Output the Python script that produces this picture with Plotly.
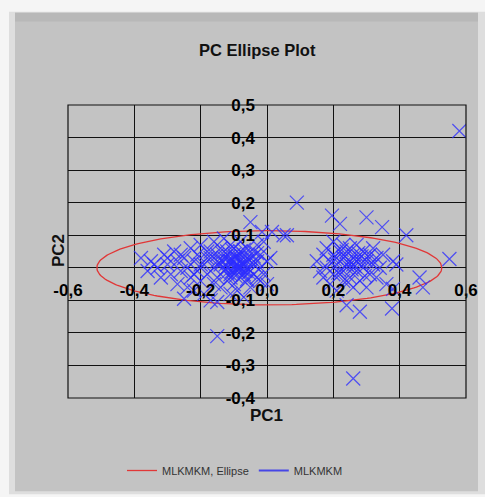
import numpy as np
import plotly.graph_objects as go

# PCA scores for the MLKMKM samples
pc1_scores = [
    -0.38, -0.36, -0.35, -0.33, -0.32, -0.31, -0.30, -0.29, -0.28, -0.27,
    -0.27, -0.26, -0.25, -0.25, -0.24, -0.24, -0.23, -0.23, -0.22, -0.22,
    -0.21, -0.21, -0.20, -0.20, -0.19, -0.19, -0.18, -0.18, -0.17, -0.17,
    -0.16, -0.16, -0.16, -0.15, -0.15, -0.15, -0.14, -0.14, -0.14, -0.13,
    -0.13, -0.13, -0.12, -0.12, -0.12, -0.11, -0.11, -0.11, -0.11, -0.10,
    -0.10, -0.10, -0.10, -0.09, -0.09, -0.09, -0.09, -0.08, -0.08, -0.08,
    -0.08, -0.07, -0.07, -0.07, -0.07, -0.06, -0.06, -0.06, -0.06, -0.05,
    -0.05, -0.05, -0.05, -0.04, -0.04, -0.04, -0.03, -0.03, -0.03, -0.02,
    -0.02, -0.015, -0.01, -0.01, 0.00, 0.00, 0.015, 0.01, 0.05, 0.06,
    -0.125, -0.115, -0.105, -0.095, -0.085, -0.075, -0.065, -0.135, -0.09, -0.07,
    -0.145, -0.125, -0.105, -0.085, -0.065, -0.055, -0.045, -0.115, -0.095, -0.075,
    -0.135, -0.105, -0.085, -0.06, -0.04, -0.11, -0.08, -0.10, -0.07, -0.12,
    -0.34, -0.30, -0.26, -0.22, -0.20, -0.18, -0.17, -0.15, -0.03, -0.02,
    0.15, 0.16, 0.17, 0.17, 0.18, 0.18, 0.19, 0.19, 0.196, 0.20,
    0.20, 0.20, 0.21, 0.21, 0.22, 0.22, 0.22, 0.23, 0.23, 0.23,
    0.24, 0.24, 0.24, 0.25, 0.25, 0.25, 0.26, 0.26, 0.26, 0.27,
    0.27, 0.28, 0.28, 0.28, 0.29, 0.29, 0.30, 0.30, 0.30, 0.31,
    0.31, 0.32, 0.32, 0.33, 0.33, 0.34, 0.347, 0.35, 0.36, 0.38,
    0.38, 0.377, 0.39, 0.42, 0.46, 0.47, 0.55, 0.58, 0.09, 0.26,
    -0.15, 0.21, 0.24, 0.27, 0.22,
    0.205, 0.215, 0.235, 0.245, 0.255, 0.265, 0.275, 0.285, 0.295, 0.305,
    0.225, 0.245, 0.265, 0.285, 0.315,
]
pc2_scores = [
    0.03, -0.01, 0.02, 0.00, -0.03, 0.04, 0.01, -0.02, 0.05, -0.05,
    0.02, -0.01, -0.095, 0.03, 0.00, -0.06, 0.06, -0.03, 0.02, -0.07,
    0.04, -0.01, 0.07, -0.04, 0.01, -0.08, 0.05, -0.02, -0.10, 0.03,
    0.08, -0.05, 0.00, -0.105, 0.04, -0.03, 0.06, 0.01, -0.06, 0.09,
    -0.01, 0.03, 0.05, -0.04, 0.00, 0.07, 0.02, -0.02, -0.08, 0.04,
    0.00, -0.05, 0.06, 0.03, -0.01, 0.01, -0.07, 0.05, 0.00, -0.03,
    0.08, 0.02, -0.02, 0.04, -0.09, 0.00, 0.06, -0.04, 0.02, 0.03,
    -0.01, 0.14, -0.06, 0.05, 0.01, -0.02, 0.07, -0.03, 0.02, 0.00,
    0.04, 0.11, 0.08, -0.02, 0.02, -0.05, 0.11, 0.03, 0.10, 0.10,
    0.01, 0.02, -0.01, 0.03, 0.00, 0.01, -0.01, 0.02, 0.00, 0.01,
    0.015, -0.005, 0.025, 0.005, 0.035, -0.015, 0.015, 0.035, -0.025, -0.005,
    0.045, 0.055, 0.045, -0.035, 0.035, -0.03, 0.025, 0.015, 0.055, -0.015,
    0.01, 0.03, 0.04, -0.02, 0.01, 0.03, 0.05, 0.02, 0.045, -0.04,
    0.02, -0.01, 0.04, -0.03, 0.06, 0.00, 0.02, -0.05, 0.16, 0.04,
    -0.02, 0.08, 0.01, -0.07, 0.135, 0.05, -0.01, 0.03, -0.04, 0.07,
    0.00, -0.115, 0.05, 0.02, -0.03, 0.06, -0.06, 0.01, 0.04, -0.01,
    0.07, 0.03, -0.135, -0.04, 0.05, 0.00, 0.155, 0.02, -0.06, 0.04,
    -0.02, 0.06, 0.01, -0.03, 0.03, 0.00, 0.125, 0.04, -0.05, 0.02,
    -0.065, -0.125, 0.01, 0.10, -0.03, -0.06, 0.027, 0.42, 0.20, -0.34,
    -0.21, 0.03, 0.01, 0.02, -0.02,
    0.025, -0.015, 0.035, 0.015, -0.005, 0.025, 0.045, 0.015, -0.025, 0.035,
    0.055, -0.045, 0.005, 0.035, 0.015,
]

# 95% confidence ellipse of the scores
ellipse_center = (0.007, 0.0)
ellipse_semi_axes = (0.52, 0.114)

x_ticks = [-0.6, -0.4, -0.2, 0.0, 0.2, 0.4, 0.6]
x_tick_labels = ["-0,6", "-0,4", "-0,2", "0,0", "0,2", "0,4", "0,6"]
y_ticks = [-0.4, -0.3, -0.2, -0.1, 0.0, 0.1, 0.2, 0.3, 0.4, 0.5]
y_tick_labels = ["-0,4", "-0,3", "-0,2", "-0,1", "", "0,1", "0,2", "0,3", "0,4", "0,5"]

W, H = 485, 497
L, R, T, B = 68, 466, 105, 400  # plot area in pixels


def px_x(p):
    return (p - L) / (R - L)


def px_y(p):
    return (B - p) / (B - T)


t = np.linspace(0, 2 * np.pi, 241)
ex = ellipse_center[0] + ellipse_semi_axes[0] * np.cos(t)
ey = ellipse_center[1] + ellipse_semi_axes[1] * np.sin(t)

fig = go.Figure()
fig.add_trace(go.Scatter(
    x=ex, y=ey, mode="lines", name="MLKMKM, Ellipse",
    line=dict(color="rgb(225,55,55)", width=1.3), hoverinfo="skip",
))
fig.add_trace(go.Scatter(
    x=pc1_scores, y=pc2_scores, mode="markers", showlegend=False, name="MLKMKM",
    marker=dict(symbol="x-thin", size=14,
                line=dict(color="rgba(45,45,255,0.78)", width=1.2)),
))
# legend entry for the score series
fig.add_trace(go.Scatter(
    x=[None], y=[None], mode="lines", name="MLKMKM",
    line=dict(color="rgb(70,70,230)", width=2),
))

tick_font = dict(family="Liberation Sans, Arial", size=17, color="black", weight="bold")

fig.update_layout(
    width=W, height=H,
    margin=dict(l=L, r=W - R, t=T, b=H - B, pad=0),
    paper_bgcolor="#f5f5f5",
    plot_bgcolor="#c3c3c3",
    separators=", ",
    xaxis=dict(
        range=[-0.6, 0.6], tickvals=x_ticks, ticktext=x_tick_labels,
        showgrid=True, gridcolor="#111111", gridwidth=1, zeroline=False,
        anchor="free", position=4 / 9, automargin=False,
        showline=False, ticks="", tickfont=tick_font, ticklabelstandoff=10,
        fixedrange=True,
    ),
    yaxis=dict(
        range=[-0.4, 0.5], tickvals=y_ticks, ticktext=y_tick_labels,
        showgrid=True, gridcolor="#111111", gridwidth=1, zeroline=False,
        anchor="free", position=0.5, automargin=False,
        showline=False, ticks="", tickfont=tick_font, ticklabelstandoff=12,
        fixedrange=True,
    ),
    showlegend=True,
    legend=dict(
        orientation="h", x=px_x(235), xanchor="center", y=px_y(473), yanchor="middle",
        font=dict(family="Liberation Sans, Arial", size=11, color="#333333"),
        bgcolor="rgba(0,0,0,0)", itemwidth=30,
    ),
    shapes=[
        # drop shadow and panel
        dict(type="rect", xref="paper", yref="paper", layer="below",
             x0=px_x(9), x1=px_x(485), y0=px_y(11), y1=px_y(497),
             fillcolor="#dedede", line=dict(width=0)),
        dict(type="rect", xref="paper", yref="paper", layer="below",
             x0=px_x(15), x1=px_x(478), y0=px_y(12), y1=px_y(494),
             fillcolor="#c3c3c3", line=dict(width=0)),
        dict(type="rect", xref="paper", yref="paper", layer="below",
             x0=px_x(15), x1=px_x(478), y0=px_y(12), y1=px_y(21),
             fillcolor="#b8b8b8", line=dict(width=0)),
        # plot frame
        dict(type="rect", xref="paper", yref="paper", layer="above",
             x0=0, x1=1, y0=0, y1=1, line=dict(color="#111111", width=1.2)),
    ],
    annotations=[
        dict(text="PC Ellipse Plot", xref="paper", yref="paper",
             x=px_x(257), y=px_y(50), showarrow=False, xanchor="center", yanchor="middle",
             font=dict(family="Liberation Sans, Arial", size=16.5, color="#111111", weight="bold")),
        dict(text="PC1", xref="paper", yref="paper",
             x=px_x(266), y=px_y(418), showarrow=False, xanchor="center", yanchor="middle",
             font=dict(family="Liberation Sans, Arial", size=17, color="#111111", weight="bold")),
        dict(text="PC2", xref="paper", yref="paper", textangle=-90,
             x=px_x(58), y=px_y(252), showarrow=False, xanchor="center", yanchor="middle",
             font=dict(family="Liberation Sans, Arial", size=17, color="#111111", weight="bold")),
    ],
)

fig.write_html("out.html")
